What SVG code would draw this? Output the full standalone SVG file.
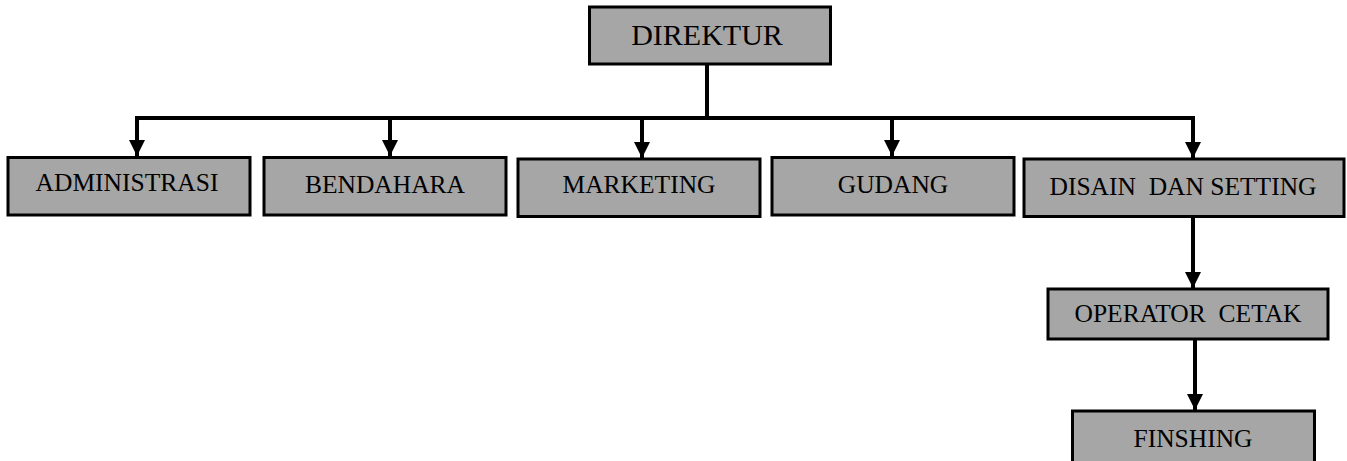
<svg xmlns="http://www.w3.org/2000/svg" width="1347" height="461" viewBox="0 0 1347 461">
<defs>
<style>
.box{fill:#a6a6a6;stroke:#000;stroke-width:3}
.lbl{font-family:"Liberation Serif","Times New Roman",serif;font-size:25.5px;fill:#000;text-anchor:middle;white-space:pre}
.big{font-size:30px}
.con{fill:none;stroke:#000;stroke-width:4}
</style>
<marker id="ah" markerUnits="userSpaceOnUse" markerWidth="16" markerHeight="16" viewBox="0 0 16 16" refX="16" refY="8" orient="auto">
<path d="M0,0 L16,8 L0,16 z" fill="#000"/>
</marker>
</defs>
<rect width="1347" height="461" fill="#fff"/>
<g id="connectors">
<path class="con" d="M707,65 V118"/>
<path class="con" d="M135,118 H1195"/>
<path class="con" d="M137,118 V156" marker-end="url(#ah)"/>
<path class="con" d="M390,118 V156" marker-end="url(#ah)"/>
<path class="con" d="M642,118 V158" marker-end="url(#ah)"/>
<path class="con" d="M892,118 V156" marker-end="url(#ah)"/>
<path class="con" d="M1193,118 V158" marker-end="url(#ah)"/>
<path class="con" d="M1193,217 V288" marker-end="url(#ah)"/>
<path class="con" d="M1195,340 V410" marker-end="url(#ah)"/>
</g>
<g id="direktur"><rect class="box" x="589.5" y="7" width="241" height="57"/><text class="lbl big" x="707" y="45">DIREKTUR</text></g>
<g id="administrasi"><rect class="box" x="8" y="157.5" width="242" height="57.5"/><text class="lbl" x="127" y="191">ADMINISTRASI</text></g>
<g id="bendahara"><rect class="box" x="264" y="157.5" width="242" height="57.5"/><text class="lbl" x="385" y="192.5">BENDAHARA</text></g>
<g id="marketing"><rect class="box" x="518" y="159" width="242" height="57.5"/><text class="lbl" x="639" y="192.5">MARKETING</text></g>
<g id="gudang"><rect class="box" x="772" y="157.5" width="242" height="57.5"/><text class="lbl" x="893" y="192.5">GUDANG</text></g>
<g id="disain"><rect class="box" x="1024" y="159" width="320" height="57.5"/><text class="lbl" x="1183" y="195">DISAIN  DAN SETTING</text></g>
<g id="operator"><rect class="box" x="1048" y="289" width="280" height="50"/><text class="lbl" x="1188" y="321.5">OPERATOR  CETAK</text></g>
<g id="finshing"><rect class="box" x="1072.5" y="411" width="242" height="55"/><text class="lbl" x="1193" y="446.5">FINSHING</text></g>
</svg>
